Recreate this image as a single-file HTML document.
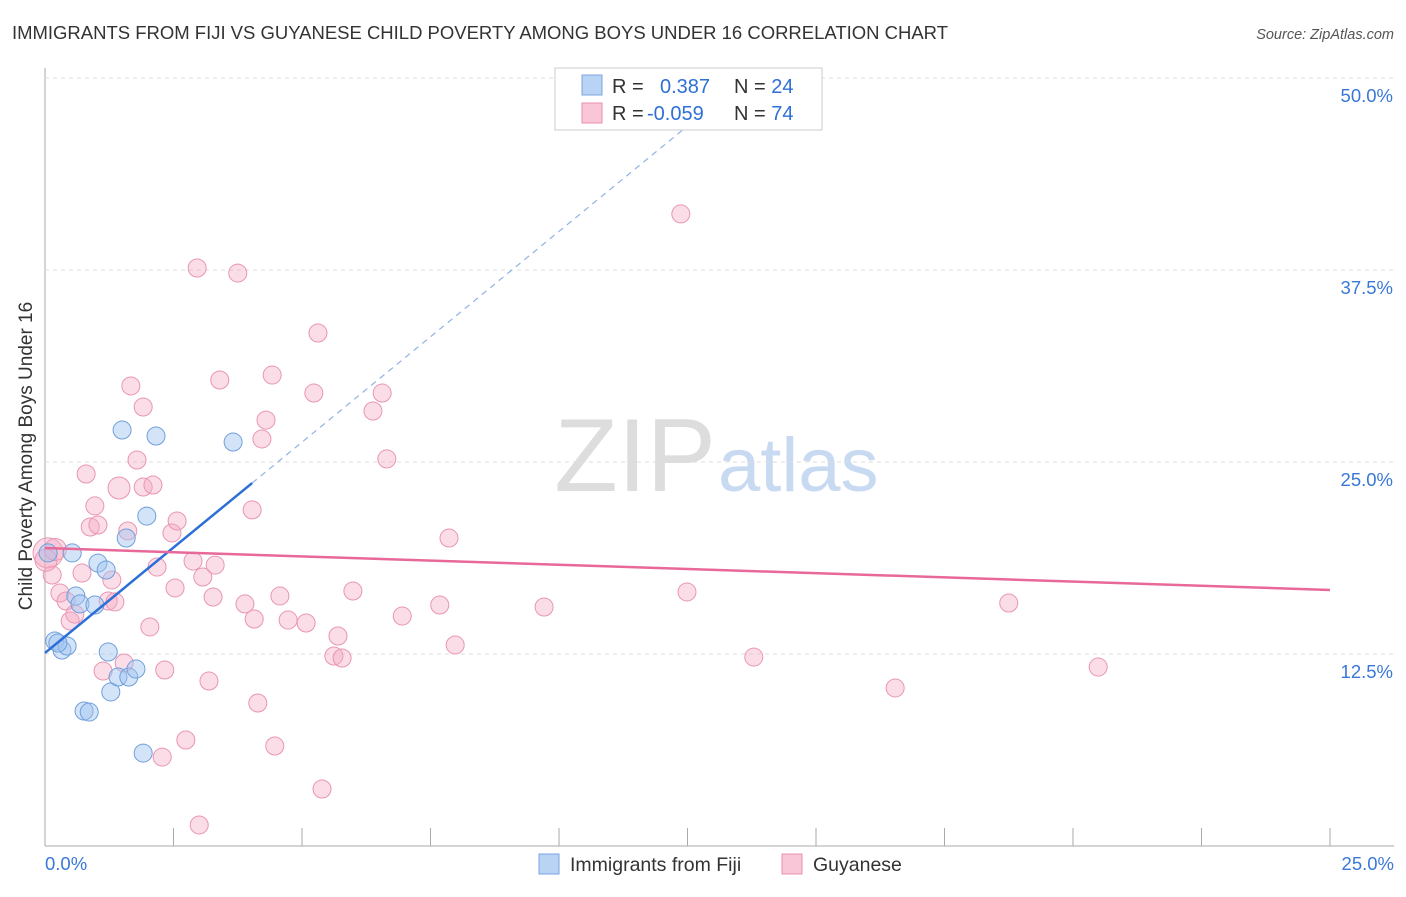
<!DOCTYPE html>
<html><head><meta charset="utf-8">
<style>
body{margin:0;background:#fff;font-family:"Liberation Sans",sans-serif;}
svg text{font-family:"Liberation Sans",sans-serif;}
</style></head>
<body>
<svg id="chart" width="1406" height="892">
<text x="12" y="39" font-size="18.5" fill="#333" textLength="936">IMMIGRANTS FROM FIJI VS GUYANESE CHILD POVERTY AMONG BOYS UNDER 16 CORRELATION CHART</text>
<text x="1394" y="39" font-size="14.5" fill="#555" font-style="italic" text-anchor="end">Source: ZipAtlas.com</text>
<text x="32" y="456" font-size="19" fill="#333" text-anchor="middle" transform="rotate(-90 32 456)">Child Poverty Among Boys Under 16</text>
<text x="716" y="491" font-size="104" fill="#ddd" text-anchor="end" font-family="Liberation Serif">ZIP</text>
<text x="718" y="491" font-size="76" fill="#c8daf2">atlas</text>
<g id="grid"></g><g id="pts"></g><g id="lines"></g>
<g>
<rect x="555" y="68" width="267" height="62" fill="#fff" stroke="#ccc"/>
<rect x="582" y="75" width="20" height="20" fill="#b8d3f3" stroke="#7aa6e0"/>
<rect x="582" y="103" width="20" height="20" fill="#f8c6d6" stroke="#e890b0"/>
<text x="612" y="93" font-size="20" fill="#333">R = <tspan fill="#2f6fd6" x="660">0.387</tspan><tspan x="734" fill="#333">N = </tspan><tspan fill="#2f6fd6">24</tspan></text>
<text x="612" y="120" font-size="20" fill="#333">R = <tspan fill="#2f6fd6" x="647">-0.059</tspan><tspan x="734" fill="#333">N = </tspan><tspan fill="#2f6fd6">74</tspan></text>
</g>
<g>
<rect x="539" y="854" width="20" height="20" fill="#b8d3f3" stroke="#7aa6e0"/>
<text x="570" y="871" font-size="19.5" fill="#333">Immigrants from Fiji</text>
<rect x="782" y="854" width="20" height="20" fill="#f8c6d6" stroke="#e890b0"/>
<text x="813" y="871" font-size="19.5" fill="#333">Guyanese</text>
</g>
</svg>
<script>
const xTicks=[0,2.5,5,7.5,10,12.5,15,17.5,20,22.5,25];
const yTicks=[12.5,25,37.5,50];
const yTickLabels=["12.5%","25.0%","37.5%","50.0%"];
const fijiX=[0.06,0.53,0.19,0.33,0.43,0.60,0.68,0.97,1.03,1.19,1.23,1.28,1.42,1.63,1.77,0.76,0.86,1.50,2.16,3.66,1.98,1.58,1.91,0.25];
const fijiY=[19.08,19.08,13.35,12.76,13.02,16.28,15.76,15.69,18.42,17.97,12.63,10.03,11.00,11.00,11.52,8.79,8.72,27.08,26.69,26.30,21.48,20.05,6.05,13.22];
const guyX=[0.06,0.14,0.29,0.41,0.49,0.58,0.72,0.80,0.88,0.97,1.03,1.13,1.23,1.30,1.36,1.44,1.54,1.61,1.67,1.79,1.91,1.91,2.10,2.04,2.18,2.28,2.33,2.47,2.57,2.53,2.74,2.88,2.96,3.07,3.00,3.19,3.27,3.31,3.40,3.75,3.89,4.03,4.07,4.14,4.22,4.30,4.42,4.47,4.57,4.73,5.08,5.23,5.31,5.39,5.62,5.70,5.78,5.99,6.38,6.56,6.65,6.95,7.68,7.86,7.98,9.71,12.37,12.49,13.79,16.54,18.75,20.49,0.02,0.20];
const guyY=[19.08,17.64,16.47,15.95,14.65,15.10,17.77,24.22,20.77,22.14,20.90,11.39,15.95,17.32,15.89,23.31,11.91,20.51,29.95,25.13,28.58,23.37,23.50,14.26,18.16,5.79,11.46,20.38,21.16,16.80,6.90,18.55,37.63,17.51,1.37,10.74,16.21,18.29,30.34,37.30,15.76,21.88,14.78,9.31,26.50,27.73,30.66,6.51,16.28,14.71,14.52,29.49,33.40,3.71,12.37,13.67,12.24,16.60,28.32,29.49,25.20,14.97,15.69,20.05,13.09,15.56,41.15,16.54,12.30,10.29,15.82,11.65,18.6,19.3];
const fijiTrend=[12.57,23.63,4.03,50.5];
const guyTrend=[19.4,16.67];
const NS="http://www.w3.org/2000/svg";
const X=v=>45+v/25*1285, Y=v=>846-v*15.36;
function mk(t,a,p){const e=document.createElementNS(NS,t);for(const k in a)e.setAttribute(k,a[k]);p.appendChild(e);return e;}
const g=document.getElementById('grid');
const ax=mk('line',{x1:45,y1:68,x2:45,y2:846,stroke:'#aaa'},g);


const bx=mk('line',{x1:45,y1:846,x2:1394,y2:846,stroke:'#aaa'},g);


yTicks.forEach((t,i)=>{
 const l=mk('line',{x1:45,y1:Y(t),x2:1394,y2:Y(t),stroke:'#ddd','stroke-dasharray':'4,4'},g);
 
 
 const tx=mk('text',{x:1393,y:Y(t)+24,'font-size':18.5,fill:'#3a78d8','text-anchor':'end'},g);
 tx.textContent=yTickLabels[i];
 
 
});
xTicks.forEach(t=>{
 const l=mk('line',{x1:X(t),y1:828,x2:X(t),y2:846,stroke:'#aaa'},g);
 
 
});
const x0=mk('text',{x:45,y:870,'font-size':18.5,fill:'#3a78d8'},g);x0.textContent='0.0%';


const x1=mk('text',{x:1394,y:870,'font-size':18.5,fill:'#3a78d8','text-anchor':'end'},g);x1.textContent='25.0%';


const p=document.getElementById('pts');
guyX.forEach((v,i)=>{
 const r=(i===0)?15:(i===15||i>=72?11:9);
 const c=mk('circle',{cx:X(v),cy:Y(guyY[i]),r:r,fill:'rgba(245,170,195,0.4)',stroke:'#e995b3','stroke-width':1},p);
 
 
});
fijiX.forEach((v,i)=>{
 const c=mk('circle',{cx:X(v),cy:Y(fijiY[i]),r:9,fill:'rgba(160,195,240,0.45)',stroke:'#6f9fdc','stroke-width':1},p);
 
 
});
const L=document.getElementById('lines');
const slope=(fijiTrend[1]-fijiTrend[0])/fijiTrend[2];
const d=mk('line',{x1:X(fijiTrend[2]),y1:Y(fijiTrend[1]),x2:X((fijiTrend[3]-fijiTrend[0])/slope),y2:Y(fijiTrend[3]),stroke:'#8fb2e3','stroke-width':1.2,'stroke-dasharray':'6,5'},L);


const f=mk('line',{x1:X(0),y1:Y(fijiTrend[0]),x2:X(fijiTrend[2]),y2:Y(fijiTrend[1]),stroke:'#2c6fd6','stroke-width':2.5},L);


const q=mk('line',{x1:X(0),y1:Y(guyTrend[0]),x2:X(25),y2:Y(guyTrend[1]),stroke:'#e8689a','stroke-width':2.5},L);


</script>
</body></html>
